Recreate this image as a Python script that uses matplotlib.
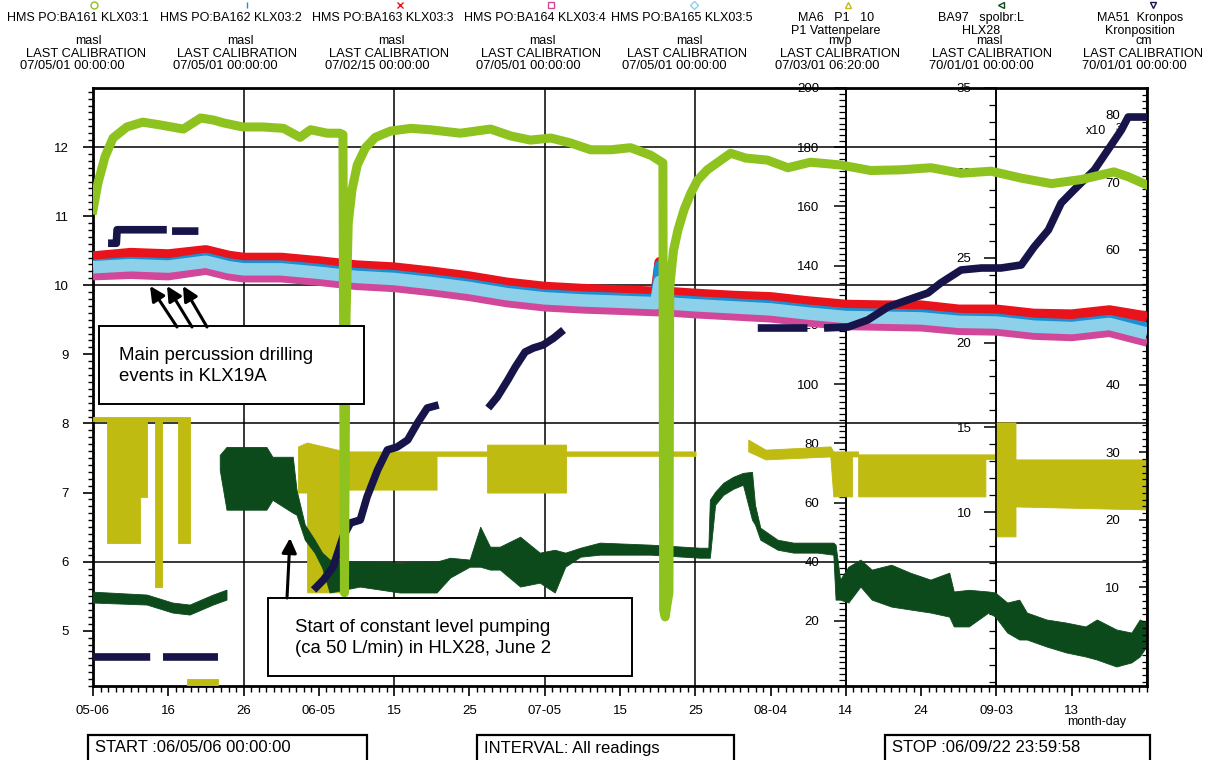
import numpy as np
import matplotlib
matplotlib.use('Agg')
import matplotlib.pyplot as plt
from matplotlib.lines import Line2D
from matplotlib.patches import Rectangle, FancyArrowPatch
from matplotlib.ticker import MultipleLocator, FixedLocator

plt.rcParams['font.family'] = ['Liberation Sans', 'DejaVu Sans']

W, H = 1208, 760
nan = np.nan

# --- data, x = days since 2006-05-06 00:00 ---
# KLX03 sections 2-5 (masl)
band_days = [0, 5, 10, 15, 18, 20, 25, 30, 35, 40, 45, 50, 55, 60, 65, 70, 74.8, 75.3, 75.9,
             80, 85, 90, 95, 100, 105, 110, 115, 120, 125, 130, 135, 140]
klx03_3 = [10.41, 10.46, 10.44, 10.50, 10.42, 10.39, 10.39, 10.34, 10.28, 10.25, 10.19, 10.12, 10.03, 9.97,
           9.94, 9.92, 9.90, 10.33, 9.90, 9.87, 9.84, 9.82, 9.76, 9.71, 9.70, 9.70, 9.64, 9.64, 9.58, 9.57, 9.63, 9.54]
klx03_2 = [10.29, 10.33, 10.31, 10.39, 10.31, 10.28, 10.28, 10.23, 10.17, 10.14, 10.08, 10.01, 9.92, 9.86,
           9.83, 9.81, 9.79, 10.28, 9.79, 9.76, 9.73, 9.70, 9.64, 9.59, 9.58, 9.57, 9.52, 9.51, 9.45, 9.43, 9.49, 9.38]
klx03_5 = [10.26, 10.29, 10.27, 10.34, 10.26, 10.23, 10.23, 10.18, 10.12, 10.09, 10.03, 9.96, 9.87, 9.81,
           9.78, 9.76, 9.74, 10.05, 9.74, 9.71, 9.68, 9.65, 9.59, 9.54, 9.53, 9.52, 9.47, 9.46, 9.40, 9.38, 9.44, 9.30]
klx03_4 = [10.13, 10.15, 10.13, 10.21, 10.13, 10.10, 10.10, 10.05, 9.99, 9.96, 9.90, 9.83, 9.74, 9.68,
           9.65, 9.63, 9.61, 9.61, 9.61, 9.58, 9.55, 9.52, 9.46, 9.41, 9.40, 9.39, 9.34, 9.33, 9.27, 9.25, 9.31, 9.17]

# KLX03 section 1 (masl)
klx03_1_days = [0, 0.66, 1.6, 2.66, 4.5, 6.6, 8.9, 12.0, 14.3, 16.0, 17.3, 19.9, 22.6, 25.3, 27.5, 28.9,
                31.1, 32.8, 33.2, 33.4, 33.6, 33.9, 34.4, 35.1, 36.2, 37.5, 39.5, 42.2, 44.8, 48.8, 52.8,
                55.5, 58.1, 60.8, 63.4, 66.1, 68.8, 71.4, 74.1, 75.7, 75.8, 76.0, 76.2, 76.5, 76.6, 77.1,
                77.7, 78.5, 79.4, 80.3, 81.6, 83.4, 84.7, 86.7, 89.6, 92.3, 95.3, 99.3, 103.3, 107.3,
                111.3, 115.3, 119.3, 123.3, 127.3, 131.3, 135.6, 137.5, 140]
klx03_1 = [11.09, 11.48, 11.86, 12.13, 12.29, 12.36, 12.32, 12.26, 12.42, 12.39, 12.35, 12.29, 12.29, 12.27,
           12.14, 12.25, 12.20, 12.20, 12.18, 5.55, 9.50, 10.90, 11.38, 11.74, 11.99, 12.14, 12.23, 12.27,
           12.25, 12.20, 12.26, 12.16, 12.10, 12.13, 12.06, 11.96, 11.96, 11.99, 11.88, 11.77, 5.30, 5.20,
           5.35, 5.55, 9.97, 10.50, 10.80, 11.09, 11.33, 11.52, 11.67, 11.81, 11.91, 11.84, 11.81, 11.70,
           11.78, 11.74, 11.66, 11.67, 11.70, 11.62, 11.65, 11.55, 11.47, 11.53, 11.64, 11.57, 11.45]

# MA6 P1 Vattenpelare (mvp), band between low and high readings
p1_days = [0, 1.9, 1.9, 6.2, 6.2, 7.2, 7.2, 8.2, 8.2, 9.2, 9.2, 11.3, 11.3, 12.9, nan, 12.5, 16.6, nan,
           27.3, 28.5, 28.5, 33.5, 33.5, 45.7, 45.7, 52.4, 52.4, 62.9, 62.9, 80.1, nan,
           87.1, 89.4, 98.0, 98.4, 100.9, 100.9, 101.7, 101.7, 118.6, 118.6, 119.9, 119.9, 122.6, 122.6, 140]
p1_high = [88.9, 88.9, 88.9, 88.9, 88.9, 88.9, 88.9, 88.9, 88.9, 88.9, 88.9, 88.9, 88.9, 88.9, nan, 0.5, 0.5, nan,
           78.8, 80.1, 80.1, 77.1, 77.1, 77.1, 77.1, 77.1, 79.4, 79.4, 77.1, 77.1, nan,
           81.1, 77.7, 78.8, 77.1, 77.1, 77.1, 77.1, 76.1, 76.1, 76.1, 76.1, 86.9, 86.9, 74.4, 74.4]
p1_low = [87.5, 87.5, 46.3, 46.3, 62.0, 62.0, 87.5, 87.5, 31.5, 31.5, 87.5, 87.5, 46.3, 46.3, nan, -2, -2, nan,
          63.2, 63.2, 29.5, 29.5, 64.2, 64.2, 75.6, 75.6, 63.2, 63.2, 75.6, 75.6, nan,
          77.1, 74.4, 75.4, 61.9, 61.9, 75.4, 75.4, 61.9, 61.9, 74.5, 74.5, 48.4, 48.4, 58.5, 57.5]

# BA97 spolbr:L HLX28 (masl)
hlx_days = [0, 7.2, 10.6, 12.9, 16.0, 17.8, nan, 16.9, 17.8, 23.1, 23.9, 26.6, 27.1, 28.2, 29.5, 30.5, 31.5,
            35.5, 40.8, 45.7, 47.5, 50.1, 51.5, 52.8, 54.1, 56.8, 59.4, 61.4, 62.8, 64.8, 67.4, 74.1, 80.7,
            81.8, 82.0, 82.7, 83.8, 85.1, 86.4, 87.6, 88.0, 88.7, 91.0, 93.1, 96.3, 98.4, 98.7, 99.3, 100.4,
            102.0, 103.5, 106.1, 108.6, 111.3, 113.8, 114.4, 116.4, 119.0, 119.9, 121.5, 123.1, 124.1,
            126.7, 129.3, 131.9, 133.4, 136.0, 138.0, 139.1, 140]
hlx_high = [5.29, 5.12, 4.65, 4.53, 5.12, 5.41, nan, 13.35, 13.82, 13.82, 13.24, 13.24, 11.29, 9.24, 8.35, 7.59,
            7.18, 7.06, 7.00, 7.06, 7.29, 7.18, 9.12, 7.94, 7.94, 8.53, 7.59, 7.76, 7.59, 7.88, 8.18, 8.06,
            7.88, 7.88, 10.71, 11.18, 11.71, 12.06, 12.29, 12.35, 10.41, 9.06, 8.35, 8.18, 8.18, 8.18, 8.06,
            6.00, 6.76, 7.18, 6.59, 6.88, 6.41, 6.00, 6.41, 5.30, 5.40, 5.30, 5.24, 4.65, 4.82, 4.06, 3.65,
            3.47, 3.24, 3.65, 3.06, 2.88, 3.65, 3.47]
hlx_low = [4.65, 4.53, 4.06, 3.94, 4.53, 4.82, nan, 12.47, 10.12, 10.12, 10.70, 9.94, 9.82, 8.35, 7.59, 6.71,
           5.24, 5.59, 5.24, 5.24, 6.12, 6.76, 6.76, 6.59, 6.59, 5.59, 5.82, 5.24, 6.76, 7.35, 7.47, 7.47,
           7.29, 7.29, 7.29, 10.41, 11.00, 11.35, 11.59, 9.53, 9.24, 8.35, 7.76, 7.59, 7.59, 7.47, 4.82,
           4.82, 4.65, 5.59, 4.82, 4.41, 4.24, 4.06, 3.82, 3.24, 3.24, 4.06, 3.82, 2.88, 2.47, 2.47, 2.06,
           1.71, 1.47, 1.29, 0.88, 1.12, 1.47, 2.06]

# MA51 Kronpos (x10^3 cm)
kron_days = [0, 7.6, nan, 9.3, 16.6, nan, 2.0, 3.1, 3.2, 9.8, nan, 10.5, 14.0, nan,
             29.3, 30.6, 31.9, 33.2, 34.2, 35.5, 36.4, 37.8, 39.1, 40.4, 41.8, 43.1, 44.4, 45.9, nan,
             52.5, 53.7, 55.1, 56.1, 57.4, 58.5, 59.8, 61.2, 62.5, nan, 88.3, 94.9, nan,
             97.1, 100.3, 102.9, 105.6, 108.2, 110.9, 112.6, 115.3, 118.0, 120.6, 123.3, 125.0, 126.9,
             128.6, 130.3, 133.0, 134.8, 136.6, 137.5, 140]
kron = [-0.3, -0.3, nan, -0.3, -0.3, nan, 61.0, 61.0, 63.0, 63.0, nan, 62.8, 62.8, nan,
        9.63, 11.11, 13.04, 17.48, 19.56, 20.0, 23.41, 27.41, 30.37, 30.81, 31.85, 34.37, 36.59, 37.04, nan,
        36.59, 38.22, 40.74, 42.67, 44.89, 45.48, 45.93, 46.96, 48.15, nan, 48.44, 48.44, nan,
        48.44, 48.59, 49.63, 51.56, 52.59, 53.63, 55.11, 57.04, 57.33, 57.33, 57.78, 60.44, 62.96,
        66.96, 68.89, 71.85, 74.81, 77.78, 79.70, 79.70]

xtick_days = [0, 10, 20, 30, 40, 50, 60, 70, 80, 90, 100, 110, 120, 130]
xtick_labels = ['05-06', '16', '26', '06-05', '15', '25', '07-05', '15', '25', '08-04', '14', '24', '09-03', '13']

hdr_names = ['HMS PO:BA161 KLX03:1', 'HMS PO:BA162 KLX03:2', 'HMS PO:BA163 KLX03:3',
             'HMS PO:BA164 KLX03:4', 'HMS PO:BA165 KLX03:5', 'MA6   P1   10\nP1 Vattenpelare',
             'BA97   spolbr:L\nHLX28', 'MA51  Kronpos\nKronposition']
hdr_units = ['masl', 'masl', 'masl', 'masl', 'masl', 'mvp', 'masl', 'cm']
hdr_calib = ['07/05/01 00:00:00', '07/05/01 00:00:00', '07/02/15 00:00:00', '07/05/01 00:00:00',
             '07/05/01 00:00:00', '07/03/01 06:20:00', '70/01/01 00:00:00', '70/01/01 00:00:00']

c_lgreen = '#8dc21f'
c_blue = '#1b8fd2'
c_red = '#e8131b'
c_pink = '#d1489b'
c_sky = '#8dd0ea'
c_olive = '#bfbb10'
c_dgreen = '#0c4a1c'
c_navy = '#17144a'


def fx(x):
    return x / W


def fy(y):
    return 1 - y / H


fig = plt.figure(figsize=(W / 100, H / 100), dpi=100)
ax = fig.add_axes([fx(93), fy(686), (1147 - 93) / W, (686 - 88) / H])
tm = ax.twinx()   # mvp scale, ticks + P1 data
th = ax.twinx()   # HLX28 scale, ticks + data
tk = ax.twinx()   # Kronpos scale, ticks only
db = ax.twinx()   # masl, KLX03:2-5
dk = ax.twinx()   # Kronpos data
dg = ax.twinx()   # masl, KLX03:1
for i, a in enumerate([ax, tm, th, tk, db, dk, dg]):
    a.set_zorder(1 + i)

ax.set_xlim(0, 140)
ax.set_ylim(4.20, 12.854)
for a in (db, dg):
    a.set_ylim(4.20, 12.854)
tm.set_ylim(-1.96, 200)
th.set_ylim(-0.24, 35)
tk.set_ylim(-4.6, 84.0)
dk.set_ylim(-4.6, 84.0)

# main axes: left scale + x axis
ax.set_xticks(xtick_days)
ax.set_xticklabels(xtick_labels)
ax.xaxis.set_minor_locator(MultipleLocator(1))
ax.yaxis.set_major_locator(MultipleLocator(1))
ax.yaxis.set_minor_locator(MultipleLocator(0.1))
ax.tick_params(axis='x', which='major', direction='out', length=7.5, width=1.2, pad=6, labelsize=9.5)
ax.tick_params(axis='x', which='minor', direction='out', length=4, width=1.0)
ax.tick_params(axis='y', which='major', direction='out', length=7.2, width=1.2, pad=10, labelsize=9.5)
ax.tick_params(axis='y', which='minor', direction='out', length=3.6, width=1.0)
for s in ax.spines.values():
    s.set_linewidth(2)
for v in [6, 8, 10, 12]:
    ax.axhline(v, color='k', lw=1.1)
for d in [20, 40, 60, 80, 100, 120]:
    ax.axvline(d, color='k', lw=1.1)


def side_axis(a, pos, major, minor, length, pad):
    for s in a.spines.values():
        s.set_visible(False)
    a.spines['left'].set_visible(True)
    a.spines['left'].set_position(('axes', pos))
    a.spines['left'].set_linewidth(1.2)
    a.yaxis.tick_left()
    a.yaxis.set_major_locator(FixedLocator(major))
    a.yaxis.set_minor_locator(MultipleLocator(minor))
    a.tick_params(axis='y', which='major', direction='out', length=length, width=1.1, pad=pad, labelsize=9.5)
    a.tick_params(axis='y', which='minor', direction='out', length=length * 0.6, width=0.9)


side_axis(tm, 100 / 140, [20, 40, 60, 80, 100, 120, 140, 160, 180, 200], 2, 8.5, 10.5)
side_axis(th, 120 / 140, [5, 10, 15, 20, 25, 30, 35], 1, 8.5, 9.5)
side_axis(tk, 1.0, [10, 20, 30, 40, 50, 60, 70, 80], 1, 5.8, 13.5)
for a in (db, dk, dg):
    a.set_axis_off()

# data
tm.fill_between(p1_days, p1_low, p1_high, color=c_olive, lw=0.6, zorder=3)
th.fill_between(hlx_days, hlx_low, hlx_high, color=c_dgreen, lw=0.6, zorder=3)
db.plot(band_days, klx03_3, color=c_red, lw=8, solid_capstyle='butt')
db.plot(band_days, klx03_4, color=c_pink, lw=6, solid_capstyle='butt')
db.plot(band_days, klx03_2, color=c_blue, lw=8, solid_capstyle='butt')
db.plot(band_days, klx03_5, color=c_sky, lw=9, solid_capstyle='butt')
dk.plot(kron_days, kron, color=c_navy, lw=5.5, solid_capstyle='butt')
dg.plot(klx03_1_days, klx03_1, color=c_lgreen, lw=6.5)

# header
hdr_name_x = [78, 231, 383, 535, 682, 836, 981, 1140]
hdr_unit_x = [88, 240, 391, 542, 689, 840, 989, 1144]
hdr_cal_x = [86, 237, 389, 541, 687, 840, 992, 1143]
hdr_date_x = [20, 173, 325, 476, 622, 775, 929, 1082]
hdr_mark_x = [94, 247, 400, 551, 694, 848, 1001, 1153]
hdr_marks = [('o', c_lgreen), ('|', c_blue), ('x', c_red), ('s', c_pink), ('D', c_sky),
             ('^', c_olive), ('<', c_dgreen), ('v', c_navy)]
for i in range(8):
    fig.text(fx(hdr_name_x[i]), fy(12), hdr_names[i], ha='center', va='top', fontsize=9, linespacing=1.1)
    fig.text(fx(hdr_unit_x[i]), fy(41), hdr_units[i], ha='center', va='center', fontsize=9)
    fig.text(fx(hdr_cal_x[i]), fy(54), 'LAST CALIBRATION', ha='center', va='center', fontsize=9.3)
    fig.text(fx(hdr_date_x[i]), fy(66), hdr_calib[i], ha='left', va='center', fontsize=9.3)
    m, c = hdr_marks[i]
    fig.add_artist(Line2D([fx(hdr_mark_x[i])], [fy(5)], transform=fig.transFigure, marker=m, color=c,
                          mfc='none', ms=5 if m != 'D' else 4, mew=1, ls='none'))

fig.text(fx(1096), fy(131), 'x10', ha='center', va='center', fontsize=9, zorder=3.6)
fig.text(fx(1119), fy(128), '3', ha='center', va='center', fontsize=7.5, zorder=3.6)
fig.text(fx(1097), fy(722), 'month-day', ha='center', va='center', fontsize=9)

# bottom info boxes
for x0, x1, txt in [(88, 367, 'START :06/05/06 00:00:00'), (477, 734, 'INTERVAL: All readings'),
                    (885, 1150, 'STOP :06/09/22 23:59:58')]:
    fig.add_artist(Rectangle((fx(x0), fy(775)), (x1 - x0) / W, 40 / H, transform=fig.transFigure,
                             facecolor='white', edgecolor='black', lw=1.6))
    fig.text(fx(x0 + 7), fy(748), txt, ha='left', va='center', fontsize=12)

# annotation boxes and arrows
for x0, y0, x1, y1, txt in [(99, 326, 364, 404, 'Main percussion drilling\nevents in KLX19A'),
                            (268, 598, 632, 676, 'Start of constant level pumping\n(ca 50 L/min) in HLX28, June 2')]:
    fig.add_artist(Rectangle((fx(x0), fy(y1)), (x1 - x0) / W, (y1 - y0) / H, transform=fig.transFigure,
                             facecolor='white', edgecolor='black', lw=1.4, zorder=10))
    fig.text(fx(x0 + 20 if x0 < 200 else x0 + 27), fy((y0 + y1) / 2 + 1), txt, ha='left', va='center',
             fontsize=13.4, linespacing=1.3, zorder=11)

for (xa, ya), (xb, yb) in [((177, 327), (150, 286)), ((192, 327), (167, 286)), ((207, 327), (183, 286)),
                           ((287, 598), (290, 538))]:
    fig.add_artist(FancyArrowPatch((fx(xa), fy(ya)), (fx(xb), fy(yb)), transform=fig.transFigure,
                                   arrowstyle='-|>', mutation_scale=22, lw=2.2, color='k',
                                   shrinkA=0, shrinkB=0, zorder=11))

fig.savefig('out.png', dpi=100)
